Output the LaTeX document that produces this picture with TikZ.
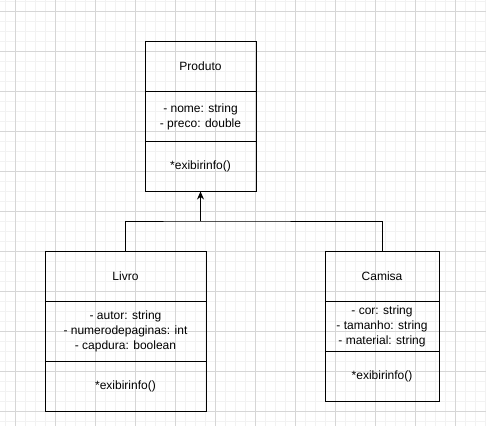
\documentclass[tikz,border=0pt]{standalone}
\usepackage{fontspec}
\setmainfont{Liberation Sans}
\usepackage{xcolor}
\usetikzlibrary{arrows.meta, positioning}

\definecolor{gridminor}{HTML}{F2F2F2}
\definecolor{gridmajor}{HTML}{D6D6D6}

\begin{document}
\begin{tikzpicture}[x=1pt,y=-1pt,>={Stealth[length=8pt,width=7pt]},node distance=0pt,
  part/.style={draw,line width=1pt,rectangle,outer sep=0pt,inner sep=0pt,minimum height=50pt,align=center,font=\fontsize{12}{15}\selectfont},
  conn/.style={line width=1pt}]
  \useasboundingbox (0,0) rectangle (486,426);
  % background grid
  \foreach \gx in {5,15,...,485} \draw[gridminor,line width=1pt] (\gx,0) -- (\gx,426);
  \foreach \gy in {1,11,...,421} \draw[gridminor,line width=1pt] (0,\gy) -- (486,\gy);
  \foreach \gx in {15,55,...,455} \draw[gridmajor,line width=1pt] (\gx,0) -- (\gx,426);
  \foreach \gy in {11,51,...,411} \draw[gridmajor,line width=1pt] (0,\gy) -- (486,\gy);

  % Produto
  \node[part,minimum width=111pt] (prodName) at (200.5,66.5) {Produto};
  \node[part,minimum width=111pt,below=of prodName] (prodAttr) {- nome: string\\- preco: double};
  \node[part,minimum width=111pt,below=of prodAttr] (prodOps) {*exibirinfo()};

  % Livro
  \node[part,minimum width=161pt] (livroName) at (125.5,276) {Livro};
  \node[part,minimum width=161pt,minimum height=60pt,below=of livroName] (livroAttr) {- autor: string\\- numerodepaginas: int\\- capdura: boolean};
  \node[part,minimum width=161pt,below=of livroAttr] (livroOps) {*exibirinfo()};

  % Camisa
  \node[part,minimum width=114pt] (camisaName) at (382,276.5) {Camisa};
  \node[part,minimum width=114pt,below=of camisaName] (camisaAttr) {- cor: string\\- tamanho: string\\- material: string};
  \node[part,minimum width=114pt,below=of camisaAttr] (camisaOps) {*exibirinfo()};

  % heranca
  \coordinate (split) at (200.5,221);
  \draw[conn] (livroName.north) |- (split) -| (camisaName.north);
  \draw[conn,->] (split) -- (prodOps.south);
\end{tikzpicture}
\end{document}
